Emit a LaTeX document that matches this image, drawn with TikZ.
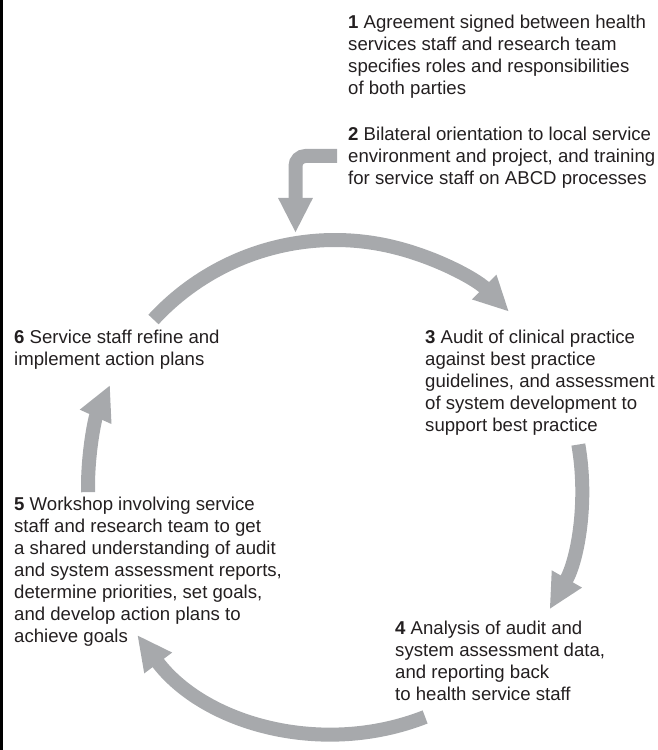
\documentclass[tikz,border=0pt]{standalone}
\usepackage{fontspec}
\setmainfont{Liberation Sans}
\usetikzlibrary{arrows.meta}
\definecolor{arrowgray}{RGB}{167,169,172}
\definecolor{textdark}{RGB}{35,31,32}
\begin{document}
\begin{tikzpicture}[x=1pt,y=1pt,
  lbl/.style={anchor=north west, inner sep=0pt, align=left, text=textdark,
    font=\fontsize{18.6}{22}\selectfont, execute at begin node=\strut},
  flow/.style={draw=arrowgray, line width=14pt, -{Triangle[length=35pt,width=32pt]}}]
\useasboundingbox (0,0) rectangle (658,750);
\fill[black] (0,0) rectangle (2.5,750);
% text blocks
\node[lbl] (t1) at (348,734.9) {\textbf{1} Agreement signed between health\\services staff and research team\\specifies roles and responsibilities\\of both parties};
\node[lbl] (t2) at (348,623.4) {\textbf{2} Bilateral orientation to local service\\environment and project, and training\\for service staff on ABCD processes};
\node[lbl] (t3) at (425,420.4) {\textbf{3} Audit of clinical practice\\against best practice\\guidelines, and assessment\\of system development to\\support best practice};
\node[lbl] (t4) at (395,129.4) {\textbf{4} Analysis of audit and\\system assessment data,\\and reporting back\\to health service staff};
\node[lbl] (t5) at (14,253.4) {\textbf{5} Workshop involving service\\staff and research team to get\\a shared understanding of audit\\and system assessment reports,\\determine priorities, set goals,\\and develop action plans to\\achieve goals};
\node[lbl] (t6) at (14,420.4) {\textbf{6} Service staff refine and\\implement action plans};
% cycle
\coordinate (c) at (335,263);
\coordinate (s2) at (337,594);
\coordinate (k2) at (295.5,594);
\coordinate (e2) at (295.5,517);
\draw[flow, rounded corners=10pt] (s2) -- (k2) -- (e2);
\draw[flow] ([shift={(137.3:247)}]c) arc[start angle=137.3, end angle=45.2, radius=247];
\draw[flow] ([shift={(9.9:247)}]c) arc[start angle=9.9, end angle=-29.7, radius=247];
\draw[flow] ([shift={(-68.6:247)}]c) arc[start angle=-68.6, end angle=-143.2, radius=247];
\draw[flow] ([shift={(181.2:247)}]c) arc[start angle=181.2, end angle=155.6, radius=247];
\end{tikzpicture}
\end{document}
